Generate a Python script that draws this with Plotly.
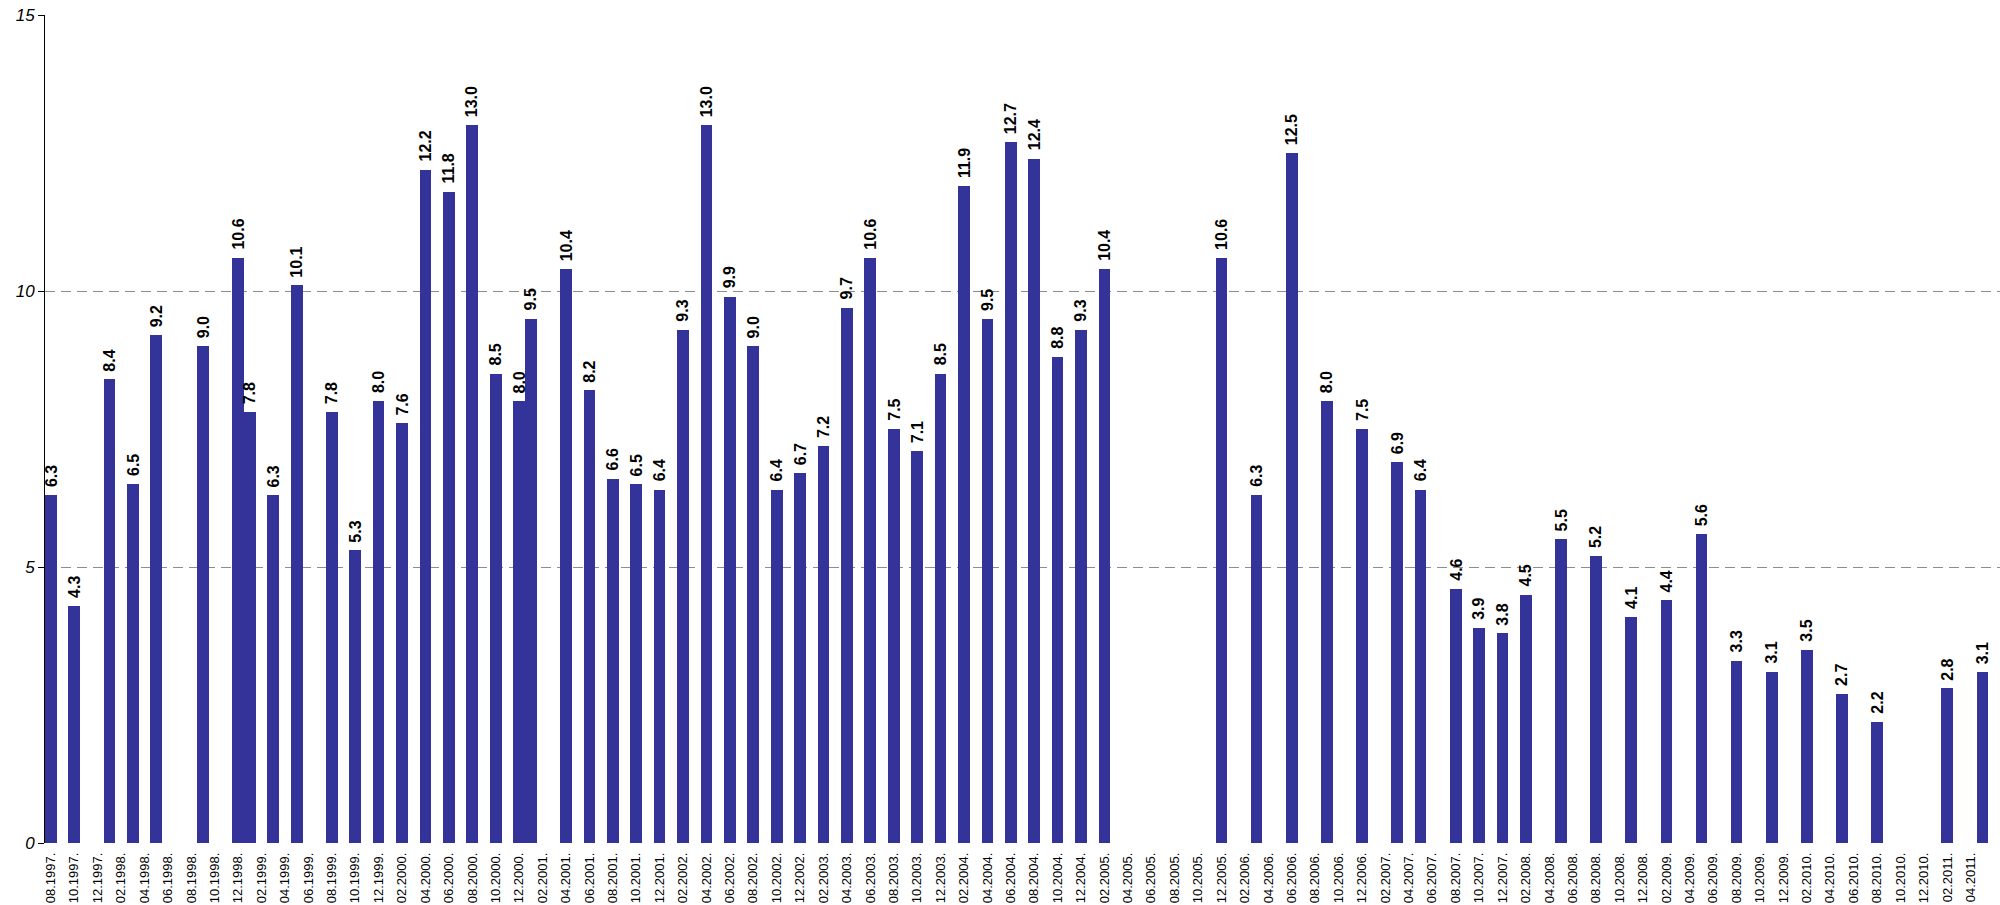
import plotly.graph_objects as go

# ---- data ----
bar_months = [
    "08.1997", "10.1997", "01.1998", "03.1998", "05.1998", "09.1998", "12.1998", "01.1999",
    "03.1999", "05.1999", "08.1999", "10.1999", "12.1999", "02.2000", "04.2000", "06.2000",
    "08.2000", "10.2000", "12.2000", "01.2001", "04.2001", "06.2001", "08.2001", "10.2001",
    "12.2001", "02.2002", "04.2002", "06.2002", "08.2002", "10.2002", "12.2002", "02.2003",
    "04.2003", "06.2003", "08.2003", "10.2003", "12.2003", "02.2004", "04.2004", "06.2004",
    "08.2004", "10.2004", "12.2004", "02.2005",
    "12.2005", "03.2006", "06.2006", "09.2006", "12.2006", "03.2007", "05.2007", "08.2007",
    "10.2007", "12.2007", "02.2008", "05.2008", "08.2008", "11.2008", "02.2009", "05.2009",
    "08.2009", "11.2009", "02.2010", "05.2010", "08.2010", "02.2011", "05.2011",
]
values = [
    6.3, 4.3, 8.4, 6.5, 9.2, 9.0, 10.6, 7.8,
    6.3, 10.1, 7.8, 5.3, 8.0, 7.6, 12.2, 11.8,
    13.0, 8.5, 8.0, 9.5, 10.4, 8.2, 6.6, 6.5,
    6.4, 9.3, 13.0, 9.9, 9.0, 6.4, 6.7, 7.2,
    9.7, 10.6, 7.5, 7.1, 8.5, 11.9, 9.5, 12.7,
    12.4, 8.8, 9.3, 10.4,
    10.6, 6.3, 12.5, 8.0, 7.5, 6.9, 6.4, 4.6,
    3.9, 3.8, 4.5, 5.5, 5.2, 4.1, 4.4, 5.6,
    3.3, 3.1, 3.5, 2.7, 2.2, 2.8, 3.1,
]
axis_start = "08.1997"
axis_last_label = "04.2011"
y_ticks = [0, 5, 10, 15]

FONT = "Arial, Liberation Sans, sans-serif"


def month_index(s):
    mm, yyyy = s.split(".")
    smm, syyyy = axis_start.split(".")
    return (int(yyyy) - int(syyyy)) * 12 + int(mm) - int(smm)


def month_label(idx):
    smm, syyyy = axis_start.split(".")
    total = int(syyyy) * 12 + int(smm) - 1 + idx
    return f"{total % 12 + 1:02d}.{total // 12}."


x_pos = [month_index(s) for s in bar_months]
tick_vals = list(range(0, month_index(axis_last_label) + 1, 2))
tick_text = [month_label(i) for i in tick_vals]

fig = go.Figure()
fig.add_trace(go.Bar(
    x=x_pos,
    y=values,
    width=1,
    marker=dict(color="#333399", line=dict(width=0)),
    hoverinfo="skip",
))

# value labels above bars (rotated), placed in data coordinates
for xp, v in zip(x_pos, values):
    fig.add_annotation(
        x=xp, y=v, xref="x", yref="y",
        text=f"{v:.1f}",
        textangle=-90,
        showarrow=False,
        xanchor="center",
        yanchor="bottom",
        yshift=6,
        font=dict(family=FONT, size=16, color="black", weight="bold"),
    )

fig.update_layout(
    width=2000,
    height=905,
    margin=dict(l=45, r=0, t=15, b=62),
    paper_bgcolor="white",
    plot_bgcolor="white",
    showlegend=False,
    font=dict(family=FONT, color="black"),
    bargap=0,
)
fig.update_xaxes(
    range=[-0.5, 166.5],
    tickmode="array",
    tickvals=tick_vals,
    ticktext=tick_text,
    tickangle=-90,
    tickfont=dict(size=13, color="black"),
    ticklabelstandoff=6,
    showgrid=False,
    zeroline=False,
    showline=False,
    ticks="",
)
fig.update_yaxes(
    range=[0, 15],
    tickmode="array",
    tickvals=y_ticks,
    showgrid=True,
    gridcolor="#8c8c8c",
    gridwidth=1,
    griddash="10px,6px",
    zeroline=False,
    showline=True,
    linecolor="black",
    linewidth=1,
    ticks="outside",
    ticklen=6,
    tickcolor="black",
    tickfont=dict(size=17, style="italic", color="black"),
)

fig.write_html(
    "out.html",
    config={"displayModeBar": False},
    post_script="document.body.style.margin='0';document.body.style.overflow='hidden';",
)
